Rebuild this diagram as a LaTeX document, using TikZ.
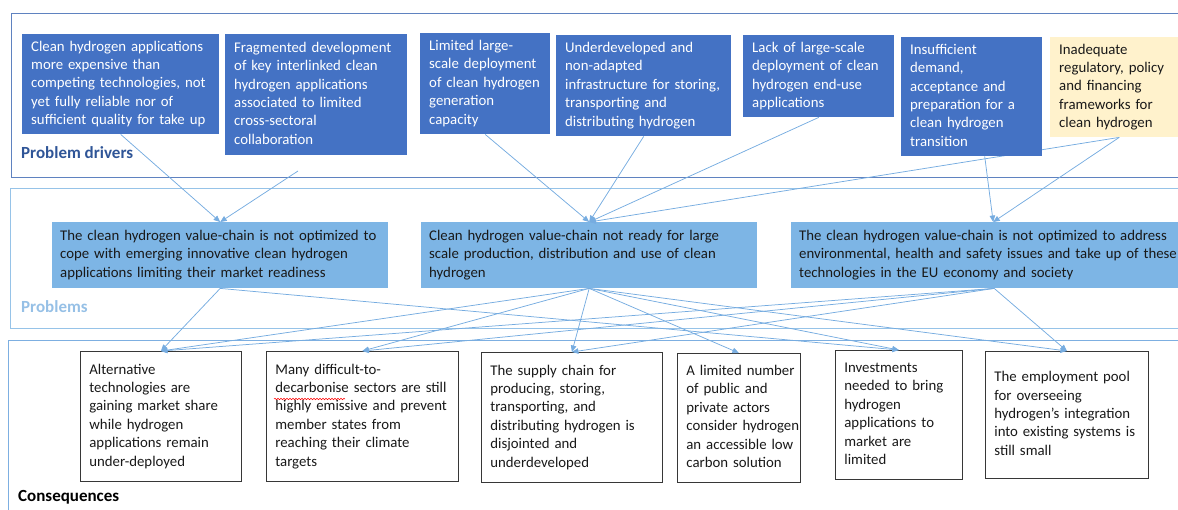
\documentclass[tikz,border=0pt]{standalone}
\usepackage{fontspec}
\setmainfont{Carlito}
\usetikzlibrary{arrows.meta,calc,decorations.pathmorphing}
\definecolor{drvblue}{RGB}{68,114,196}
\definecolor{prbblue}{RGB}{125,181,229}
\definecolor{inadeq}{RGB}{255,242,204}
\definecolor{arrblue}{RGB}{118,172,224}
\definecolor{pnlA}{RGB}{95,130,192}
\definecolor{pnlB}{RGB}{150,195,232}
\definecolor{pnlC}{RGB}{125,175,225}
\definecolor{lblA}{RGB}{47,85,151}
\definecolor{lblB}{RGB}{150,192,230}
\definecolor{darktxt}{RGB}{25,25,25}
\newcommand{\bxt}[1]{\begin{tabular}{@{}l@{}}#1\end{tabular}}
\begin{document}
\begin{tikzpicture}[x=1pt,y=-1pt,
  txtbase/.style={anchor=north west, inner xsep=9pt, inner ysep=0pt, align=left,
    font=\fontsize{14.8}{18.4}\selectfont},
  drv/.style={txtbase, fill=drvblue, text=white},
  drvy/.style={txtbase, fill=inadeq, text=darktxt},
  prb/.style={txtbase, inner xsep=8pt, fill=prbblue, text=darktxt},
  csq/.style={txtbase, draw={rgb,255:red,55;green,55;blue,55}, line width=0.8pt, fill=white, text=darktxt},
  arr/.style={draw=arrblue, line width=0.75pt, -{Triangle[length=6.5pt,width=5.5pt]}},
  plabel/.style={anchor=west, inner sep=0pt, font=\fontsize{17}{20}\selectfont\bfseries}
]
\useasboundingbox (0,0) rectangle (1178,509);
\clip (0,0) rectangle (1178,509);

% panels
\draw[pnlA, line width=0.9pt] (11,13) rectangle (1195,177);
\draw[pnlB, line width=0.9pt] (10,188) rectangle (1195,328);
\draw[pnlC, line width=0.9pt] (8,340) rectangle (1195,530);

% panel labels
\node[plabel, text=lblA] (lpd) at (21,153) {Problem drivers};
\node[plabel, text=lblB] (lpr) at (21,307) {Problems};
\node[plabel, text=black] (lco) at (18,497) {Consequences};

% nodes
\path
 node[drv, minimum height=100pt, text width=179pt] (d1) at (22,34)
   {\bxt{Clean hydrogen applications\\more expensive than\\competing technologies, not\\yet fully reliable nor of\\sufficient quality for take up}}
 node[drv, minimum height=121pt, text width=164pt] (d2) at (225,34)
   {\bxt{Fragmented development\\of key interlinked clean\\hydrogen applications\\associated to limited\\cross-sectoral\\collaboration}}
 node[drv, minimum height=101pt, text width=112pt] (d3) at (420,33)
   {\bxt{Limited large-\\scale deployment\\of clean hydrogen\\generation\\capacity}}
 node[drv, minimum height=101pt, text width=157pt] (d4) at (556,35)
   {\bxt{Underdeveloped and\\non-adapted\\infrastructure for storing,\\transporting and\\distributing hydrogen}}
 node[drv, minimum height=82pt, text width=133pt] (d5) at (743,35)
   {\bxt{Lack of large-scale\\deployment of clean\\hydrogen end-use\\applications}}
 node[drv, minimum height=119pt, text width=123pt] (d6) at (901,37)
   {\bxt{Insufficient\\demand,\\acceptance and\\preparation for a\\clean hydrogen\\transition}}
 node[drvy, minimum height=100pt, text width=120pt] (d7) at (1050,37)
   {\bxt{Inadequate\\regulatory, policy\\and financing\\frameworks for\\clean hydrogen}}
 node[prb, minimum height=66pt, text width=320pt] (p1) at (52,222)
   {\bxt{The clean hydrogen value-chain is not optimized to\\cope with emerging innovative clean hydrogen\\applications limiting their market readiness}}
 node[prb, minimum height=66pt, text width=320pt] (p2) at (421,222)
   {\bxt{Clean hydrogen value-chain not ready for large\\scale production, distribution and use of clean\\hydrogen}}
 node[prb, minimum height=66pt, text width=380pt] (p3) at (791,222)
   {\bxt{The clean hydrogen value-chain is not optimized to address\\environmental, health and safety issues and take up of these\\technologies in the EU economy and society}}
 node[csq, minimum height=130pt, text width=143pt] (c1) at (80,351)
   {\bxt{Alternative\\technologies are\\gaining market share\\while hydrogen\\applications remain\\under-deployed}}
 node[csq, minimum height=130pt, text width=174pt] (c2) at (266,351)
   {\bxt{Many difficult-to-\\decarbonise sectors are still\\highly emissive and prevent\\member states from\\reaching their climate\\targets}}
 node[csq, minimum height=130pt, text width=163pt] (c3) at (481,352)
   {\bxt{The supply chain for\\producing, storing,\\transporting, and\\distributing hydrogen is\\disjointed and\\underdeveloped}}
 node[csq, minimum height=129pt, text width=105pt] (c4) at (677,353)
   {\bxt{A limited number\\of public and\\private actors\\consider hydrogen\\an accessible low\\carbon solution}}
 node[csq, minimum height=129pt, text width=109pt] (c5) at (835,350)
   {\bxt{Investments\\needed to bring\\hydrogen\\applications to\\market are\\limited}}
 node[csq, minimum height=127pt, text width=145pt] (c6) at (985,351)
   {\bxt{The employment pool\\for overseeing\\hydrogen’s integration\\into existing systems is\\still small}};

\coordinate (d2s) at (298,171);
\coordinate (d6s) at ($(d6.south)+(13,0)$);
\coordinate (p3s) at ($(p3.south)+(5,0)$);
\coordinate (p3n) at ($(p3.north)+(4,0)$);

% connectors: drivers -> problems
\draw[arr] (d1.south) -- (p1.north);
\draw[arr] (d2s) -- (p1.north);
\draw[arr] (d3.south) -- (p2.north);
\draw[arr] (d4.south) -- (p2.north);
\draw[arr] (d5.south) -- (p2.north);
\draw[arr] (d7.south) -- (p2.north);
\draw[arr] (d6s) -- (p3n);
\draw[arr] (d7.south) -- (p3n);

% connectors: problems -> consequences
\draw[arr] (p1.south) -- (c1.north);
\draw[arr] (p1.south) -- (c5.north);
\foreach \c in {c1,c2,c3,c4,c5,c6} \draw[arr] (p2.south) -- (\c.north);
\foreach \c in {c1,c2,c3,c6} \draw[arr] (p3s) -- (\c.north);

% driver boxes redrawn on top of the connectors that pass behind them
\path
 node[drv, minimum height=100pt, text width=179pt] at (22,34)
   {\bxt{Clean hydrogen applications\\more expensive than\\competing technologies, not\\yet fully reliable nor of\\sufficient quality for take up}}
 node[drv, minimum height=121pt, text width=164pt] at (225,34)
   {\bxt{Fragmented development\\of key interlinked clean\\hydrogen applications\\associated to limited\\cross-sectoral\\collaboration}}
 node[drv, minimum height=101pt, text width=112pt] at (420,33)
   {\bxt{Limited large-\\scale deployment\\of clean hydrogen\\generation\\capacity}}
 node[drv, minimum height=101pt, text width=157pt] at (556,35)
   {\bxt{Underdeveloped and\\non-adapted\\infrastructure for storing,\\transporting and\\distributing hydrogen}}
 node[drv, minimum height=82pt, text width=133pt] at (743,35)
   {\bxt{Lack of large-scale\\deployment of clean\\hydrogen end-use\\applications}}
 node[drv, minimum height=119pt, text width=123pt] at (901,37)
   {\bxt{Insufficient\\demand,\\acceptance and\\preparation for a\\clean hydrogen\\transition}}
 node[drvy, minimum height=100pt, text width=120pt] at (1050,37)
   {\bxt{Inadequate\\regulatory, policy\\and financing\\frameworks for\\clean hydrogen}};

% spell-check squiggle under "decarbonise"
\draw[red, line width=0.5pt, decorate, decoration={snake, amplitude=0.8pt, segment length=3pt}]
  (274,399) -- (345,399);
\end{tikzpicture}
\end{document}
